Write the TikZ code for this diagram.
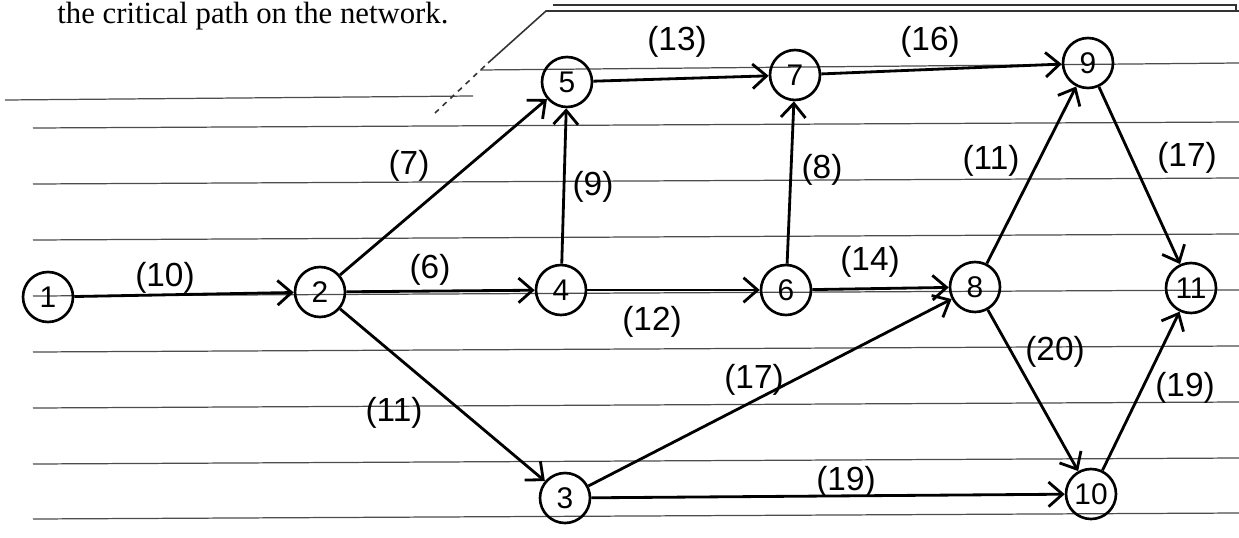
\documentclass[tikz,border=0pt]{standalone}
\usepackage{fontspec}
\setmainfont{Liberation Serif}
\newfontfamily\handfont{Liberation Sans}
\usetikzlibrary{arrows.meta, positioning}

\begin{document}
\begin{tikzpicture}[
  x=0.02cm, y=-0.02cm,
  event/.style={draw, circle, line width=1.5pt, minimum size=1.0cm, inner sep=0pt,
                font=\handfont\fontsize{17}{17}\selectfont},
  dur/.style={font=\handfont\fontsize{19}{19}\selectfont, inner sep=1pt},
  act/.style={-{Straight Barb[length=8pt, width=14pt]}, line width=1.6pt},
  rule/.style={line width=0.7pt, black!70},
  edge/.style={line width=0.9pt, black!80}
]
\useasboundingbox (0,0) rectangle (1239,537);
\clip (0,0) rectangle (1239,537);

\node[anchor=base west, inner sep=0pt, font=\fontsize{17.5}{20}\selectfont]
  (title) at (57,24) {the critical path on the network.};

\foreach \ry in {128,184,240,296,352,408,464,519}
  \draw[rule] (33,\ry) -- (1239,\ry-6);
\draw[rule] (480,70) -- (1239,63);
\draw[rule] (5,100) -- (473,96);
\draw[edge, dashed] (435,113) -- (488,63);
\draw[edge] (488,63) -- (546,11) -- (1239,11);
\draw[edge] (553,5) -- (1236,5) -- (1236,11);

\node[event] (e1)  at (48,297)   {1};
\node[event] (e2)  at (320,292)  {2};
\node[event] (e3)  at (565,498)  {3};
\node[event] (e4)  at (561,290)  {4};
\node[event] (e5)  at (567,82)   {5};
\node[event] (e6)  at (786,290)  {6};
\node[event] (e7)  at (795,75)   {7};
\node[event] (e8)  at (975,287)  {8};
\node[event] (e9)  at (1088,63)  {9};
\node[event] (e10) at (1091,494) {10};
\node[event] (e11) at (1191,288) {11};

\draw[act] (e1)--(e2);  \draw[act] (e2)--(e5);
\draw[act] (e2)--(e4);  \draw[act] (e2)--(e3);
\draw[act] (e4)--(e5);  \draw[act] (e4)--(e6);
\draw[act] (e5)--(e7);  \draw[act] (e6)--(e7);
\draw[act] (e6)--(e8);  \draw[act] (e3)--(e8);
\draw[act] (e3)--(e10); \draw[act] (e7)--(e9);
\draw[act] (e8)--(e9);  \draw[act] (e9)--(e11);
\draw[act] (e8)--(e10); \draw[act] (e10)--(e11);

\node[dur] (d12)  at (165,278)  {(10)};
\node[dur] (d25)  at (409,166)  {(7)};
\node[dur] (d24)  at (430,270)  {(6)};
\node[dur] (d23)  at (394,413)  {(11)};
\node[dur] (d45)  at (593,187)  {(9)};
\node[dur] (d46)  at (652,322)  {(12)};
\node[dur] (d57)  at (677,42)   {(13)};
\node[dur] (d79)  at (930,42)   {(16)};
\node[dur] (d67)  at (822,170)  {(8)};
\node[dur] (d68)  at (870,262)  {(14)};
\node[dur] (d89)  at (991,161)  {(11)};
\node[dur] (d911) at (1187,158) {(17)};
\node[dur] (d38)  at (754,380)  {(17)};
\node[dur] (d810) at (1055,352) {(20)};
\node[dur] (d1011) at (1185,388) {(19)};
\node[dur] (d310) at (846,482)  {(19)};
\end{tikzpicture}
\end{document}
